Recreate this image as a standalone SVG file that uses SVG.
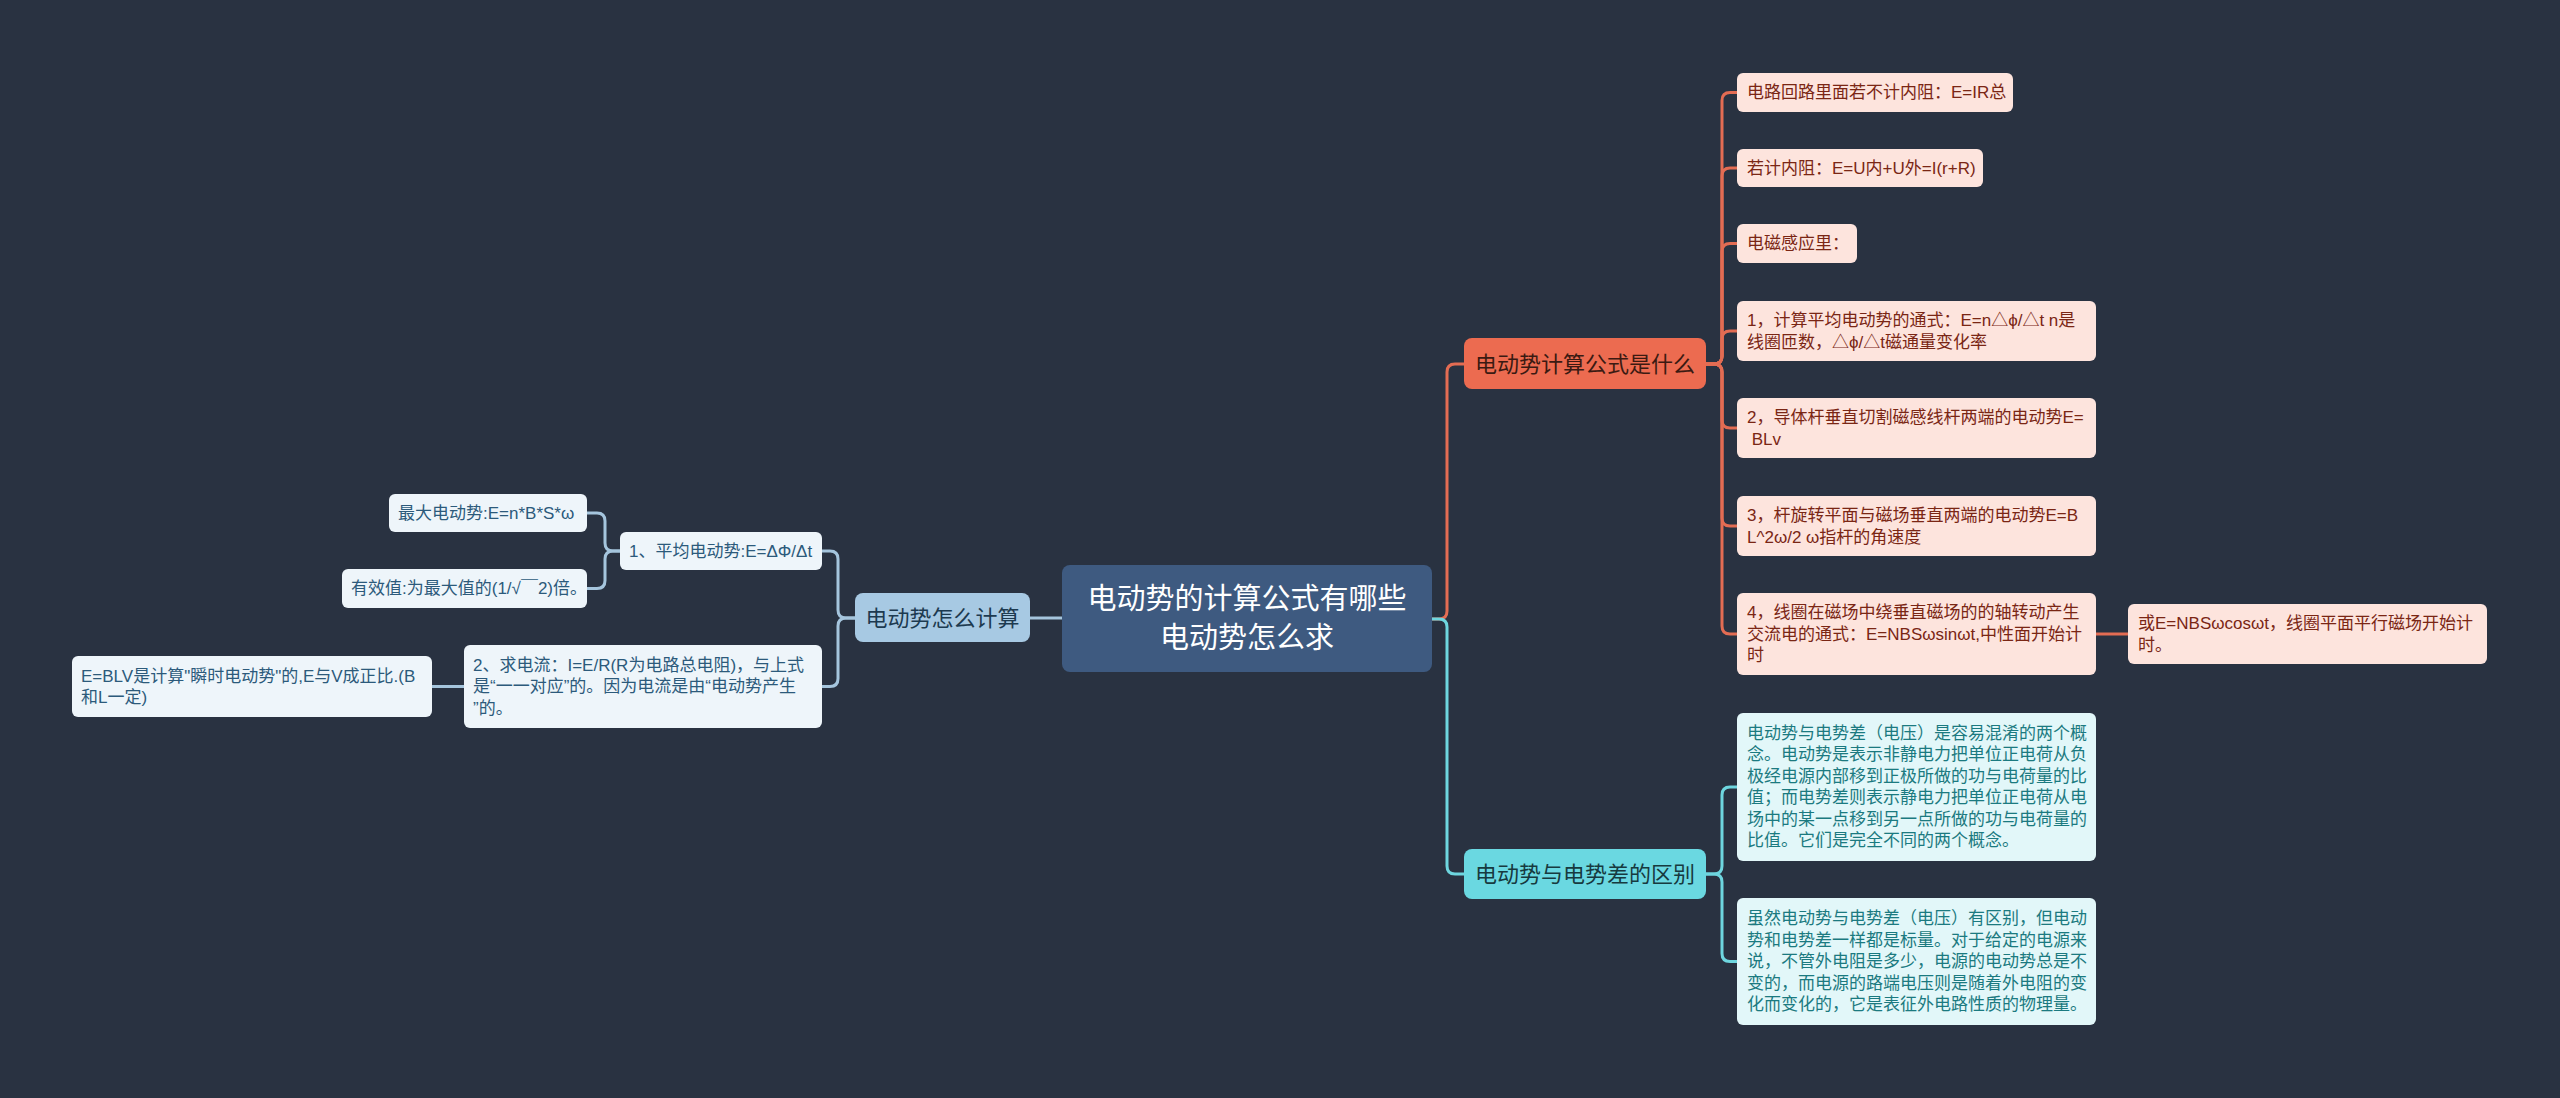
<svg xmlns="http://www.w3.org/2000/svg" width="2560" height="1098" viewBox="0 0 2560 1098">
<style>
text{font-family:"Liberation Sans","Noto Sans CJK SC",sans-serif;dominant-baseline:central}
.root rect{fill:#3e5a80}
.root text{fill:#ffffff;font-size:29px;text-anchor:middle}
.b1 rect{fill:#ec6b50}
.b1 text{fill:#3b1a12;font-size:22px;text-anchor:middle}
.b2 rect{fill:#6ad8e1}
.b2 text{fill:#173a3f;font-size:22px;text-anchor:middle}
.b3 rect{fill:#a7c9e3}
.b3 text{fill:#1d3a50;font-size:22px;text-anchor:middle}
.c1 rect{fill:#fde4dd}
.c1 text{fill:#7a2614;font-size:17px}
.c2 rect{fill:#e2f7f9}
.c2 text{fill:#1b7a80;font-size:17px}
.c3 rect{fill:#eef5fa}
.c3 text{fill:#2c5a7b;font-size:17px}
.lo{fill:none;stroke:#e36c53;stroke-width:3}
.lc{fill:none;stroke:#6ed6df;stroke-width:3}
.lb{fill:none;stroke:#a5c5dd;stroke-width:3}
</style>
<rect width="2560" height="1098" fill="#293241"/>
<g id="connectors">
<path class="lo" d="M1432 619 H1439 Q1447 619 1447 611 V372 Q1447 364 1455 364 H1464"/>
<path class="lc" d="M1432 619 H1439 Q1447 619 1447 627 V866 Q1447 874 1455 874 H1464"/>
<path class="lb" d="M1062 618 H1030"/>
<path class="lo" d="M1706 364 H1714 Q1722 364 1722 356 V100.5 Q1722 92.5 1730 92.5 H1737"/>
<path class="lo" d="M1706 364 H1714 Q1722 364 1722 356 V176 Q1722 168 1730 168 H1737"/>
<path class="lo" d="M1706 364 H1714 Q1722 364 1722 356 V251.5 Q1722 243.5 1730 243.5 H1737"/>
<path class="lo" d="M1706 364 H1714 Q1722 364 1722 356 V339 Q1722 331 1730 331 H1737"/>
<path class="lo" d="M1706 364 H1714 Q1722 364 1722 372 V420 Q1722 428 1730 428 H1737"/>
<path class="lo" d="M1706 364 H1714 Q1722 364 1722 372 V518 Q1722 526 1730 526 H1737"/>
<path class="lo" d="M1706 364 H1714 Q1722 364 1722 372 V626 Q1722 634 1730 634 H1737"/>
<path class="lo" d="M2096 634 H2128"/>
<path class="lc" d="M1706 874 H1714 Q1722 874 1722 866 V795 Q1722 787 1730 787 H1737"/>
<path class="lc" d="M1706 874 H1714 Q1722 874 1722 882 V953.5 Q1722 961.5 1730 961.5 H1737"/>
<path class="lb" d="M855 618 H846 Q838 618 838 610 V559 Q838 551 830 551 H822"/>
<path class="lb" d="M855 618 H846 Q838 618 838 626 V678.5 Q838 686.5 830 686.5 H822"/>
<path class="lb" d="M620 551 H613 Q605 551 605 543 V521 Q605 513 597 513 H587"/>
<path class="lb" d="M620 551 H613 Q605 551 605 559 V580.5 Q605 588.5 597 588.5 H587"/>
<path class="lb" d="M464 686.5 H432"/>
</g>
<g id="root" class="root">
<rect x="1062" y="565" width="370" height="107" rx="8"/>
<text x="1247" y="599">电动势的计算公式有哪些</text>
<text x="1247" y="638">电动势怎么求</text>
</g>
<g id="branch1" class="b1">
<rect x="1464" y="338" width="242" height="51" rx="8"/>
<text x="1585" y="364">电动势计算公式是什么</text>
</g>
<g id="branch2" class="b2">
<rect x="1464" y="849" width="242" height="50" rx="8"/>
<text x="1585" y="874">电动势与电势差的区别</text>
</g>
<g id="branch3" class="b3">
<rect x="855" y="593" width="175" height="49" rx="8"/>
<text x="942.5" y="618">电动势怎么计算</text>
</g>
<g id="o1" class="c1">
<rect x="1737" y="73" width="276" height="39" rx="6"/>
<text x="1747" y="92.5">电路回路里面若不计内阻：E=IR总</text>
</g>
<g id="o2" class="c1">
<rect x="1737" y="149" width="246" height="38" rx="6"/>
<text x="1747" y="168">若计内阻：E=U内+U外=I(r+R)</text>
</g>
<g id="o3" class="c1">
<rect x="1737" y="224" width="120" height="39" rx="6"/>
<text x="1747" y="243.5">电磁感应里：</text>
</g>
<g id="o4" class="c1">
<rect x="1737" y="301" width="359" height="60" rx="6"/>
<text x="1747" y="320.5">1，计算平均电动势的通式：E=n△ϕ/△t n是</text>
<text x="1747" y="342">线圈匝数，△ϕ/△t磁通量变化率</text>
</g>
<g id="o5" class="c1">
<rect x="1737" y="398" width="359" height="60" rx="6"/>
<text x="1747" y="417.5">2，导体杆垂直切割磁感线杆两端的电动势E=</text>
<text x="1747" y="439" xml:space="preserve"> BLv</text>
</g>
<g id="o6" class="c1">
<rect x="1737" y="496" width="359" height="60" rx="6"/>
<text x="1747" y="515.5">3，杆旋转平面与磁场垂直两端的电动势E=B</text>
<text x="1747" y="537">L^2ω/2 ω指杆的角速度</text>
</g>
<g id="o7" class="c1">
<rect x="1737" y="593" width="359" height="82" rx="6"/>
<text x="1747" y="612.5">4，线圈在磁场中绕垂直磁场的的轴转动产生</text>
<text x="1747" y="634">交流电的通式：E=NBSωsinωt,中性面开始计</text>
<text x="1747" y="655.5">时</text>
</g>
<g id="o7a" class="c1">
<rect x="2128" y="604" width="359" height="60" rx="6"/>
<text x="2138" y="623.5">或E=NBSωcosωt，线圈平面平行磁场开始计</text>
<text x="2138" y="645">时。</text>
</g>
<g id="t1" class="c2">
<rect x="1737" y="713" width="359" height="148" rx="6"/>
<text x="1747" y="733.25">电动势与电势差（电压）是容易混淆的两个概</text>
<text x="1747" y="754.75">念。电动势是表示非静电力把单位正电荷从负</text>
<text x="1747" y="776.25">极经电源内部移到正极所做的功与电荷量的比</text>
<text x="1747" y="797.75">值；而电势差则表示静电力把单位正电荷从电</text>
<text x="1747" y="819.25">场中的某一点移到另一点所做的功与电荷量的</text>
<text x="1747" y="840.75">比值。它们是完全不同的两个概念。</text>
</g>
<g id="t2" class="c2">
<rect x="1737" y="898" width="359" height="127" rx="6"/>
<text x="1747" y="918.5">虽然电动势与电势差（电压）有区别，但电动</text>
<text x="1747" y="940">势和电势差一样都是标量。对于给定的电源来</text>
<text x="1747" y="961.5">说，不管外电阻是多少，电源的电动势总是不</text>
<text x="1747" y="983">变的，而电源的路端电压则是随着外电阻的变</text>
<text x="1747" y="1004.5">化而变化的，它是表征外电路性质的物理量。</text>
</g>
<g id="l1" class="c3">
<rect x="620" y="532" width="202" height="38" rx="6"/>
<text x="629" y="551">1、平均电动势:E=ΔΦ/Δt</text>
</g>
<g id="l1a" class="c3">
<rect x="389" y="494" width="198" height="38" rx="6"/>
<text x="398" y="513">最大电动势:E=n*B*S*ω</text>
</g>
<g id="l1b" class="c3">
<rect x="342" y="569" width="245" height="39" rx="6"/>
<text x="351" y="588.5">有效值:为最大值的(1/√￣2)倍。</text>
</g>
<g id="l2" class="c3">
<rect x="464" y="645" width="358" height="83" rx="6"/>
<text x="473" y="665">2、求电流：I=E/R(R为电路总电阻)，与上式</text>
<text x="473" y="686.5">是“一一对应”的。因为电流是由“电动势产生</text>
<text x="473" y="708">”的。</text>
</g>
<g id="l2a" class="c3">
<rect x="72" y="656" width="360" height="61" rx="6"/>
<text x="81" y="676">E=BLV是计算"瞬时电动势"的,E与V成正比.(B</text>
<text x="81" y="697">和L一定)</text>
</g>
</svg>
